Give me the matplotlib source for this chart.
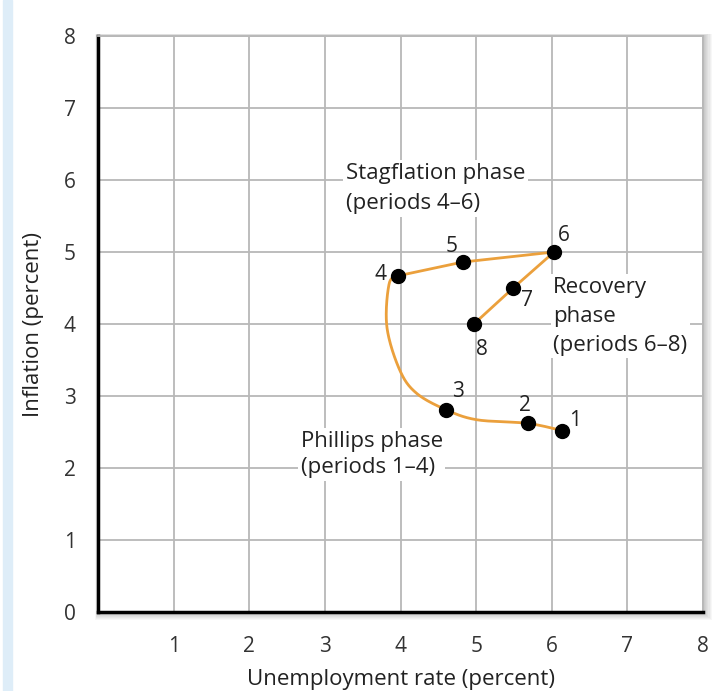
import numpy as np
import matplotlib.pyplot as plt
from matplotlib.patches import Rectangle

# periods 1-8
periods = ['1', '2', '3', '4', '5', '6', '7', '8']
unemployment = [6.14, 5.68, 4.60, 3.97, 4.82, 6.03, 5.49, 4.97]
inflation = [2.52, 2.62, 2.81, 4.67, 4.86, 5.00, 4.50, 4.00]

# extra points where the curve bends between periods 2 and 4
bend_x = [5.01, 4.21, 3.99, 3.82, 3.85]
bend_y = [2.67, 3.04, 3.36, 3.96, 4.56]

x_ticks = [1, 2, 3, 4, 5, 6, 7, 8]
y_ticks = [0, 1, 2, 3, 4, 5, 6, 7, 8]

orange = '#EBA03C'
plt.rcParams['font.family'] = ['Open Sans', 'DejaVu Sans']


def catmull_rom(px, py, n=30):
    # smooth curve through the given points
    pts = np.column_stack([px, py])
    pts = np.vstack([pts[0], pts, pts[-1]])
    out = []
    for i in range(1, len(pts) - 2):
        p0, p1, p2, p3 = pts[i - 1], pts[i], pts[i + 1], pts[i + 2]
        t = np.linspace(0, 1, n)[:, None]
        seg = 0.5 * ((2 * p1) + (-p0 + p2) * t + (2 * p0 - 5 * p1 + 4 * p2 - p3) * t ** 2
                     + (-p0 + 3 * p1 - 3 * p2 + p3) * t ** 3)
        out.append(seg)
    out = np.vstack(out)
    return out[:, 0], out[:, 1]


fig = plt.figure(figsize=(7.27, 6.91), dpi=100)
fig.patches.append(Rectangle((0.004, 0), 0.012, 1, transform=fig.transFigure,
                             color='#deedf8', zorder=0))

ax_pos = [0.1348, 0.1143, 0.8322, 0.8336]
# soft drop shadow round the plot area
for k in range(8):
    d = 0.0015 * (k + 1)
    fig.patches.append(Rectangle((ax_pos[0] - d * 0.3, ax_pos[1] - d),
                                 ax_pos[2] + d * 1.3, ax_pos[3] + d * 1.3,
                                 transform=fig.transFigure, color='black',
                                 alpha=0.03, zorder=0, lw=0))

ax = fig.add_axes(ax_pos)
ax.set_zorder(2)
ax.set_facecolor('white')
ax.set_xlim(0, 8)
ax.set_ylim(0, 8)
ax.set_xticks(x_ticks)
ax.set_yticks(y_ticks)
ax.tick_params(length=0, labelsize=15, labelcolor='#333333', pad=17)
ax.tick_params(axis='y', pad=16)
ax.grid(True, color='#b8b8b8', lw=1.3)
ax.set_axisbelow(True)
for s in ['top', 'right']:
    ax.spines[s].set_color('#b8b8b8')
    ax.spines[s].set_linewidth(1.3)
for s in ['left', 'bottom']:
    ax.spines[s].set_color('black')
    ax.spines[s].set_linewidth(2.5)

# curve 1 -> 4, then straight runs 4 -> 8
cx = [unemployment[0], unemployment[1]] + bend_x[:1] + [unemployment[2]] + bend_x[1:] + [unemployment[3]]
cy = [inflation[0], inflation[1]] + bend_y[:1] + [inflation[2]] + bend_y[1:] + [inflation[3]]
sx, sy = catmull_rom(cx, cy)
ax.plot(sx, sy, color=orange, lw=2, zorder=3, solid_capstyle='round')
ax.plot(unemployment[3:], inflation[3:], color=orange, lw=2, zorder=3,
        solid_joinstyle='round')
ax.plot(unemployment, inflation, 'o', color='black', ms=10, zorder=4)

offsets = [(9, 7), (-2, 13), (9, 13), (-13, 1), (-8, 11), (7, 12), (10, -9), (6, -18)]
for lab, x, y, off in zip(periods, unemployment, inflation, offsets):
    ax.annotate(lab, (x, y), xytext=off, textcoords='offset points',
                ha='center', va='center', fontsize=15, color='#222222', zorder=5)

box = dict(facecolor='white', edgecolor='none', pad=2)
ax.text(3.28, 5.88, 'Stagflation phase\n(periods 4\u20136)', fontsize=16,
        color='#222222', ha='left', va='center', linespacing=1.6, bbox=box, zorder=2)
ax.text(6.02, 4.11, 'Recovery\nphase\n(periods 6\u20138)', fontsize=16,
        color='#222222', ha='left', va='center', linespacing=1.5, bbox=box, zorder=2)
ax.text(2.68, 2.19, 'Phillips phase\n(periods 1\u20134)', fontsize=16,
        color='#222222', ha='left', va='center', linespacing=1.35, bbox=box, zorder=2)

ax.set_xlabel('Unemployment rate (percent)', fontsize=16, color='#222222', labelpad=9)
ax.set_ylabel('Inflation (percent)', fontsize=16, color='#222222', labelpad=14)

fig.savefig('out.png', dpi=100)
